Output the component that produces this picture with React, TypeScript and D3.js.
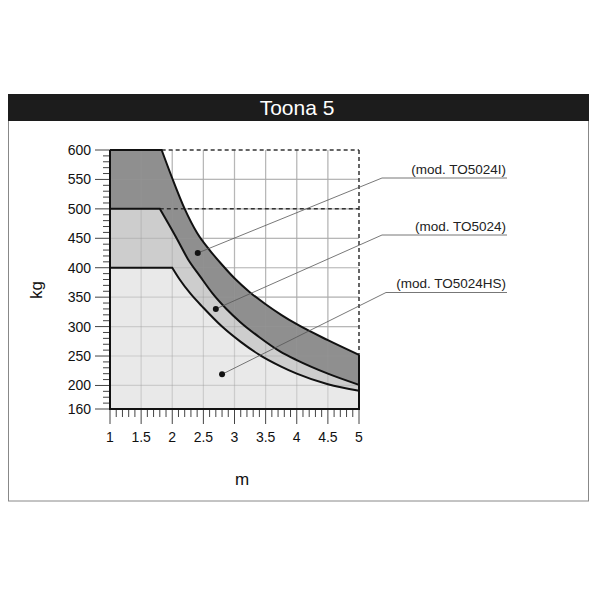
import React from "react";
import * as d3 from "d3";

const title = "Toona 5";
const xLabel = "m";
const yLabel = "kg";
const xTicks = [1, 1.5, 2, 2.5, 3, 3.5, 4, 4.5, 5];
const yTicks = [160, 200, 250, 300, 350, 400, 450, 500, 550, 600];

// TO5024I (outer)
const outerTop = 600;
const outerX = [1.83, 2.0, 2.2, 2.4, 2.6, 2.8, 3.0, 3.25, 3.5, 3.75, 4.0, 4.5, 5.0];
const outerY = [600, 552, 500, 459, 430, 405, 382, 358, 338, 320, 304, 277, 252];
// TO5024 (middle)
const midTop = 500;
const midX = [1.8, 2.07, 2.25, 2.45, 2.65, 2.87, 3.09, 3.4, 3.73, 4.0, 4.5, 5.0];
const midY = [500, 450, 415, 385, 356, 330, 308, 282, 258, 243, 220, 201];
// TO5024HS (inner)
const innerTop = 400;
const innerX = [2.0, 2.12, 2.3, 2.5, 2.8, 3.1, 3.4, 3.75, 4.0, 4.5, 5.0];
const innerY = [400, 380, 355, 332, 300, 274, 252, 232, 220, 202, 191];

const labels = ["(mod. TO5024I)", "(mod. TO5024)", "(mod. TO5024HS)"];
const dotX = [2.41, 2.7, 2.8];
const dotY = [425, 330, 219];

const FONT = "'Liberation Sans', Arial, sans-serif";

export default function App() {
  const x = d3.scaleLinear().domain([1, 5]).range([110, 359]);
  const y = d3.scaleLinear().domain([160, 600]).range([409, 150]);

  const line = d3
    .line<[number, number]>()
    .x((d) => x(d[0]))
    .y((d) => y(d[1]))
    .curve(d3.curveMonotoneX);

  const curvePath = (xs: number[], ys: number[], top: number) => {
    const pts = xs.map((v, i) => [v, ys[i]] as [number, number]);
    const c = line(pts) as string;
    return `M${x(1)},${y(top)}L${c.slice(1)}`;
  };
  const areaPath = (xs: number[], ys: number[], top: number) => {
    const pts = xs.map((v, i) => [v, ys[i]] as [number, number]);
    const c = line(pts) as string;
    return `M${x(1)},${y(160)}L${x(1)},${y(top)}L${c.slice(1)}L${x(5)},${y(160)}Z`;
  };

  const minorY = d3.range(160, 601, 10);
  const minorX = d3.range(10, 51, 1).map((v) => v / 10);
  const gridX = [1.5, 2, 2.5, 3, 3.5, 4, 4.5];
  const gridY = [200, 250, 300, 350, 400, 450, 500, 550];

  const underlineY = [178, 235, 292.5];
  const underlineX0 = [382, 382, 386];
  const labelBase = [174, 231, 288];

  return (
    <svg
      width={600}
      height={600}
      style={{ position: "absolute", left: 0, top: 0, background: "#fff" }}
    >
      <rect x={0} y={0} width={600} height={600} fill="#fff" />
      {/* frame */}
      <rect x={8.5} y={94.5} width={580} height={406.5} fill="#fff" stroke="#888" strokeWidth={1} />
      <rect x={8} y={94} width={581} height={27} fill="#1c1c1c" />
      <text x={297} y={115} textAnchor="middle" fill="#fff" fontSize={21} fontFamily={FONT}>
        {title}
      </text>

      {/* grid under */}
      {gridX.map((v) => (
        <line key={"gx" + v} x1={x(v)} x2={x(v)} y1={y(600)} y2={y(160)} stroke="#c8c8c8" strokeWidth={1.2} />
      ))}
      {gridY.map((v) => (
        <line key={"gy" + v} x1={x(1)} x2={x(5)} y1={y(v)} y2={y(v)} stroke="#c8c8c8" strokeWidth={1.2} />
      ))}

      {/* fills */}
      <path d={areaPath(outerX, outerY, outerTop)} fill="#8f8f8f" />
      <path d={areaPath(midX, midY, midTop)} fill="#cdcdcd" />
      <path d={areaPath(innerX, innerY, innerTop)} fill="#e9e9e9" />

      {/* grid over fills (faint) */}
      {gridX.map((v) => (
        <line key={"gx2" + v} x1={x(v)} x2={x(v)} y1={y(600)} y2={y(160)} stroke="#999" strokeOpacity={0.35} strokeWidth={1.2} />
      ))}
      {gridY.map((v) => (
        <line key={"gy2" + v} x1={x(1)} x2={x(5)} y1={y(v)} y2={y(v)} stroke="#999" strokeOpacity={0.35} strokeWidth={1.2} />
      ))}

      {/* dashed limits */}
      <line x1={x(outerX[0])} x2={x(5)} y1={y(600)} y2={y(600)} stroke="#333" strokeWidth={1.5} strokeDasharray="4,3" />
      <line x1={x(midX[0])} x2={x(5)} y1={y(500)} y2={y(500)} stroke="#333" strokeWidth={1.5} strokeDasharray="4,3" />
      <line x1={x(5)} x2={x(5)} y1={y(600)} y2={y(outerY[outerY.length - 1])} stroke="#333" strokeWidth={1.5} strokeDasharray="4,3" />

      {/* curves */}
      <path d={curvePath(outerX, outerY, outerTop)} fill="none" stroke="#111" strokeWidth={2} />
      <path d={curvePath(midX, midY, midTop)} fill="none" stroke="#111" strokeWidth={2} />
      <path d={curvePath(innerX, innerY, innerTop)} fill="none" stroke="#111" strokeWidth={2} />
      <line x1={x(5)} x2={x(5)} y1={y(outerY[outerY.length - 1])} y2={y(160)} stroke="#111" strokeWidth={2} />

      {/* y axis ticks */}
      {minorY.map((v) => (
        <line key={"my" + v} x1={x(1) - (yTicks.includes(v) ? 15 : 7)} x2={x(1)} y1={y(v)} y2={y(v)} stroke="#444" strokeWidth={1} />
      ))}
      {yTicks.map((v) => (
        <text key={"yt" + v} x={91} y={y(v)} dy="0.36em" textAnchor="end" fontSize={14} fontFamily={FONT} fill="#111">
          {v}
        </text>
      ))}
      {/* x axis ticks */}
      {minorX.map((v) => {
        const major = Math.abs(v * 2 - Math.round(v * 2)) < 1e-6;
        return (
          <line key={"mx" + v} x1={x(v)} x2={x(v)} y1={y(160)} y2={y(160) + (major ? 15 : 8)} stroke="#444" strokeWidth={1} />
        );
      })}
      {xTicks.map((v) => (
        <text key={"xt" + v} x={x(v)} y={442} textAnchor="middle" fontSize={14} fontFamily={FONT} fill="#111">
          {v}
        </text>
      ))}

      {/* axes lines */}
      <line x1={x(1)} x2={x(1)} y1={y(600)} y2={y(160) + 1} stroke="#111" strokeWidth={2} />
      <line x1={x(1) - 1} x2={x(5) + 1} y1={y(160)} y2={y(160)} stroke="#111" strokeWidth={2} />

      {/* axis labels */}
      <text transform={`translate(42,290) rotate(-90)`} textAnchor="middle" fontSize={17} fontFamily={FONT} fill="#111">
        {yLabel}
      </text>
      <text x={242} y={485} textAnchor="middle" fontSize={17} fontFamily={FONT} fill="#111">
        {xLabel}
      </text>

      {/* callouts */}
      {labels.map((l, i) => (
        <g key={l}>
          <line x1={underlineX0[i]} x2={507} y1={underlineY[i]} y2={underlineY[i]} stroke="#777" strokeWidth={1} />
          <line x1={underlineX0[i]} x2={x(dotX[i])} y1={underlineY[i]} y2={y(dotY[i])} stroke="#555" strokeWidth={0.8} />
          <circle cx={x(dotX[i])} cy={y(dotY[i])} r={3} fill="#111" />
          <text x={506} y={labelBase[i]} textAnchor="end" fontSize={13.5} fontFamily={FONT} fill="#222">
            {l}
          </text>
        </g>
      ))}
    </svg>
  );
}
